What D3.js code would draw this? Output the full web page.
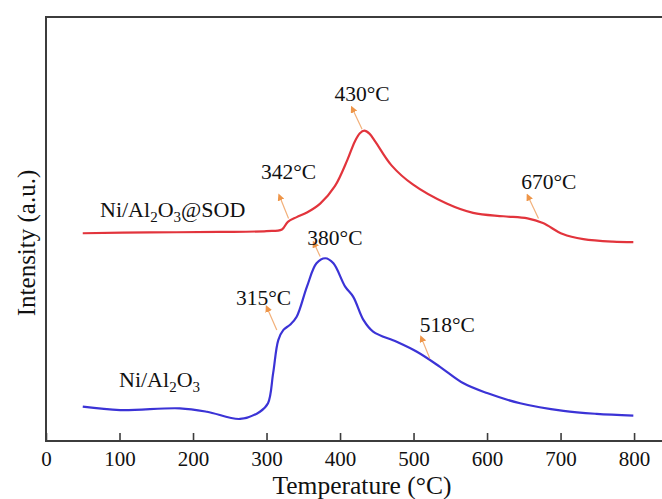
<!DOCTYPE html>
<html><head><meta charset="utf-8">
<script src="https://cdn.jsdelivr.net/npm/d3@7"></script>
<style>body{margin:0;background:#fff}svg{display:block}</style>
</head><body>
<svg id="c" width="662" height="499"></svg>
<script>
// Temperature (°C) and intensity (a.u.)
const sodTemp = [50,141,237,300,321,329,341,355,373,393,410,420,427,433,440,448,470,499,545,581,622,655,676,703,731,771,799];
const sodInt  = [49.0,49.2,49.3,49.5,49.9,51.7,52.8,53.9,56.0,60.1,66.3,70.6,72.6,73.2,72.5,70.6,65.0,60.5,56.0,53.8,53.0,52.5,51.4,48.8,47.6,47.0,46.9];
const niTemp = [50,101,182,219,264,291,302,309,316,323,332,341,355,368,380,391,407,418,432,445,477,504,536,568,600,645,704,749,799];
const niInt  = [8.1,7.3,7.7,6.9,5.2,6.9,8.9,16.0,23.8,26.2,27.4,29.3,36.4,41.9,43.1,41.9,36.4,34.0,28.5,25.8,23.4,21.1,17.5,13.6,11.3,8.9,7.1,6.4,6.0];
const xTicks = [0,100,200,300,400,500,600,700,800];
// annotations: label, label position (temp, intensity), arrow tail and head (temp, intensity)
const annLabels = ["342°C","430°C","670°C","315°C","380°C","518°C"];
const annLabelT = [330,430,684,296,393,546];
const annLabelI = [61.7,80.2,59.5,32.1,46.2,25.8];
const annTailT  = [330,430,670,314,373,522];
const annTailI  = [52.5,73.5,52.5,26.2,43.5,19.5];
const annHeadT  = [318,417,656,301,365,511];
const annHeadI  = [57.6,78.3,57.6,31.3,46.5,24.2];

const svg = d3.select("#c");
const W = 662, H = 499;
const m = {l:46, t:17, b:441};
const x = d3.scaleLinear().domain([0,838]).range([m.l, W]);
const y = d3.scaleLinear().domain([0,100]).range([m.b, m.t]);
const serif = "'Liberation Serif','Times New Roman',serif";

svg.append("defs").append("marker").attr("id","ah")
  .attr("viewBox","0 0 10 10").attr("refX",5).attr("refY",5)
  .attr("markerWidth",7).attr("markerHeight",7).attr("markerUnits","userSpaceOnUse")
  .attr("orient","auto")
  .append("path").attr("d","M0,0L10,5L0,10Z").attr("fill","#ee9548");

// frame: left, bottom, top
const axCol = "#3c3c3c";
svg.append("line").attr("x1",m.l).attr("x2",m.l).attr("y1",m.t).attr("y2",m.b).attr("stroke",axCol).attr("stroke-width",2);
svg.append("line").attr("x1",m.l-1).attr("x2",W).attr("y1",m.t).attr("y2",m.t).attr("stroke",axCol).attr("stroke-width",2);

const xAxis = d3.axisBottom(x).tickValues(xTicks).tickSizeInner(-8).tickSizeOuter(0).tickPadding(18);
const gx = svg.append("g").attr("transform",`translate(0,${m.b})`).call(xAxis);
gx.select(".domain").attr("stroke",axCol).attr("stroke-width",2).attr("d",`M${m.l-1},0H${W}`);
gx.selectAll(".tick line").attr("stroke",axCol).attr("stroke-width",1.6);
gx.selectAll(".tick text").attr("font-family",serif).attr("font-size",21).attr("fill","#111").attr("dy","0.35em");

svg.append("text").attr("x",362).attr("y",494).attr("text-anchor","middle")
  .attr("font-family",serif).attr("font-size",25.5).attr("fill","#111").text("Temperature (°C)");
svg.append("text").attr("transform","translate(35,243) rotate(-90)").attr("text-anchor","middle")
  .attr("font-family",serif).attr("font-size",25).attr("fill","#111").text("Intensity (a.u.)");

const line = d3.line().x(d=>x(d[0])).y(d=>y(d[1])).curve(d3.curveCatmullRom.alpha(0.5));
svg.append("path").datum(sodTemp.map((t,i)=>[t,sodInt[i]]))
  .attr("d",line).attr("fill","none").attr("stroke","#e2343c").attr("stroke-width",2.2);
svg.append("path").datum(niTemp.map((t,i)=>[t,niInt[i]]))
  .attr("d",line).attr("fill","none").attr("stroke","#3b33d6").attr("stroke-width",2.2);

// arrows
annLabels.forEach((lab,i)=>{
  svg.append("line").attr("x1",x(annTailT[i])).attr("y1",y(annTailI[i]))
    .attr("x2",x(annHeadT[i])).attr("y2",y(annHeadI[i]))
    .attr("stroke","#f2b07a").attr("stroke-width",1.2).attr("marker-end","url(#ah)");
  svg.append("text").attr("x",x(annLabelT[i])).attr("y",y(annLabelI[i])).attr("text-anchor","middle")
    .attr("font-family",serif).attr("font-size",21.5).attr("fill","#111").text(lab);
});

// series labels
function chem(xp, yp, parts){
  const t = svg.append("text").attr("x",xp).attr("y",yp).attr("font-family",serif).attr("font-size",22).attr("fill","#111");
  parts.forEach(p=>{
    if (p.sub) t.append("tspan").attr("font-size",15).attr("dy",5).text(p.s);
    else t.append("tspan").attr("dy",p.up?-5:0).text(p.s);
  });
}
chem(100,216.5,[{s:"Ni/Al"},{s:"2",sub:true},{s:"O",up:true},{s:"3",sub:true},{s:"@SOD",up:true}]);
chem(119,386.5,[{s:"Ni/Al"},{s:"2",sub:true},{s:"O",up:true},{s:"3",sub:true}]);
</script>
</body></html>
